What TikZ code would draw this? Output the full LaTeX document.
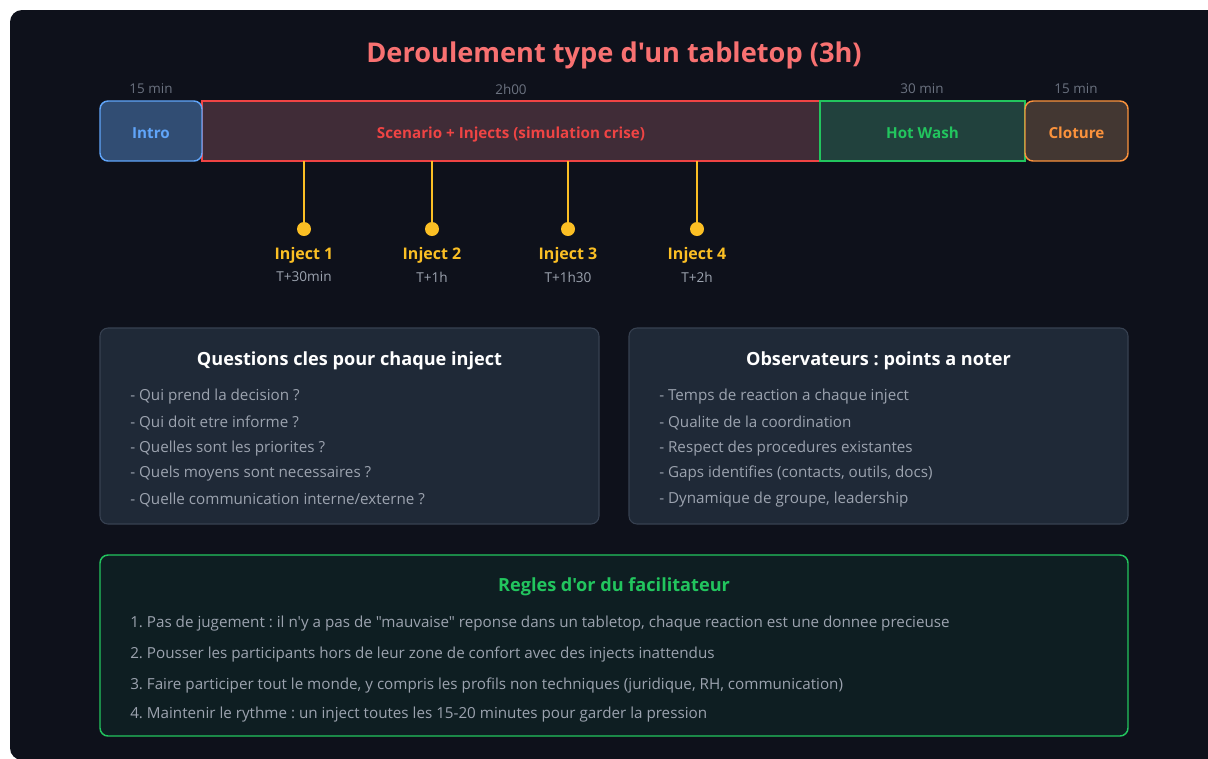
\documentclass[tikz,border=0pt]{standalone}
\usepackage{fontspec}
\setmainfont{Open Sans}[Ligatures=TeXOff]
\usepackage{tikz}
\frenchspacing

\definecolor{bgdark}{HTML}{0E111B}
\definecolor{titlered}{HTML}{F87171}
\definecolor{durgray}{HTML}{6B7280}
\definecolor{txtgray}{HTML}{9CA3AF}
\definecolor{introfill}{HTML}{314D73}
\definecolor{introline}{HTML}{60A5FA}
\definecolor{scenfill}{HTML}{402C37}
\definecolor{scenline}{HTML}{EF4444}
\definecolor{washfill}{HTML}{21413D}
\definecolor{washline}{HTML}{22C55E}
\definecolor{clotfill}{HTML}{433732}
\definecolor{clotline}{HTML}{FB923C}
\definecolor{injyellow}{HTML}{FBBF24}
\definecolor{cardfill}{HTML}{1F2937}
\definecolor{cardline}{HTML}{374151}
\definecolor{rulefill}{HTML}{0E1E22}

\newcommand{\fsz}[1]{\fontsize{#1}{1.2\dimexpr #1\relax}\selectfont}

\begin{document}
\begin{tikzpicture}[x=0.75pt, y=-0.75pt,
    phase/.style={draw, line width=1.1pt, minimum height=45pt, inner sep=0pt, text height=2.2ex, text depth=0pt, font=\fsz{11.4pt}\bfseries},
    duration/.style={text=durgray, font=\fsz{10.1pt}},
    stem/.style={draw=injyellow, line width=2.2pt},
    injdot/.style={circle, fill=injyellow, minimum size=10.5pt, inner sep=0pt},
    injname/.style={text=injyellow, font=\fsz{12pt}\bfseries},
    injtime/.style={text=txtgray, font=\fsz{10.2pt}},
    card/.style={rounded corners=6pt, line width=0.8pt},
    cardtitle/.style={text=white, font=\fsz{13.6pt}\bfseries},
    item/.style={anchor=west, text=txtgray, font=\fsz{11.4pt}, inner sep=0pt}]
    \useasboundingbox (0,0) rectangle (1208,758);
    \fill[white] (0,0) rectangle (1208,758);
    \fill[bgdark, rounded corners=9pt] (10,10) rectangle (1220,760);

    % title
    \node[text=titlered, font=\fsz{20.4pt}\bfseries] (title) at (614,55) {Deroulement type d'un tabletop (3h)};

    % timeline
    \node[phase, fill=scenfill, draw=scenline, text=scenline, minimum width=463.5pt] (scen) at (511,131) {Scenario + Injects (simulation crise)};
    \node[phase, fill=washfill, draw=washline, text=washline, minimum width=153.75pt] (wash) at (922.5,131) {Hot Wash};
    \node[phase, fill=introfill, draw=introline, text=introline, minimum width=76.5pt, rounded corners=6pt] (intro) at (151,131) {Intro};
    \node[phase, fill=clotfill, draw=clotline, text=clotline, minimum width=77.25pt, rounded corners=6pt] (clot) at (1076.5,131) {Cloture};

    \node[duration] (d1) at (151,89) {15 min};
    \node[duration] (d2) at (511,89) {2h00};
    \node[duration] (d3) at (922,89) {30 min};
    \node[duration] (d4) at (1076,89) {15 min};

    % injects
    \foreach \n/\x/\t in {1/304/T+30min, 2/432/T+1h, 3/568/T+1h30, 4/697/T+2h} {
        \coordinate (top\n) at (\x,161);
        \node[injdot] (dot\n) at (\x,229) {};
        \draw[stem] (top\n) -- (dot\n.center);
        \node[injname] (inj\n) at (\x,255) {Inject \n};
        \node[injtime] (time\n) at (\x,277) {\t};
    }

    % cartes
    \draw[card, fill=cardfill, draw=cardline] (100,328) rectangle (599,524);
    \node[cardtitle] (qtitle) at (349.5,361) {Questions cles pour chaque inject};
    \node[item] (q1) at (130,397) {- Qui prend la decision ?};
    \node[item] (q2) at (130,423) {- Qui doit etre informe ?};
    \node[item] (q3) at (130,449) {- Quelles sont les priorites ?};
    \node[item] (q4) at (130,474) {- Quels moyens sont necessaires ?};
    \node[item] (q5) at (130,500) {- Quelle communication interne/externe ?};

    \draw[card, fill=cardfill, draw=cardline] (629,328) rectangle (1128,524);
    \node[cardtitle] (otitle) at (878.5,361) {Observateurs : points a noter};
    \node[item] (o1) at (659,397) {- Temps de reaction a chaque inject};
    \node[item] (o2) at (659,423) {- Qualite de la coordination};
    \node[item] (o3) at (659,449) {- Respect des procedures existantes};
    \node[item] (o4) at (659,474) {- Gaps identifies (contacts, outils, docs)};
    \node[item] (o5) at (659,500) {- Dynamique de groupe, leadership};

    \draw[card, fill=rulefill, draw=washline, line width=1.1pt] (100,555) rectangle (1128,736);
    \node[cardtitle, text=washline] (rtitle) at (614,587) {Regles d'or du facilitateur};
    \node[item] (r1) at (130,624) {1. Pas de jugement : il n'y a pas de "mauvaise" reponse dans un tabletop, chaque reaction est une donnee precieuse};
    \node[item] (r2) at (130,654) {2. Pousser les participants hors de leur zone de confort avec des injects inattendus};
    \node[item] (r3) at (130,686) {3. Faire participer tout le monde, y compris les profils non techniques (juridique, RH, communication)};
    \node[item] (r4) at (130,715) {4. Maintenir le rythme : un inject toutes les 15-20 minutes pour garder la pression};
\end{tikzpicture}
\end{document}
